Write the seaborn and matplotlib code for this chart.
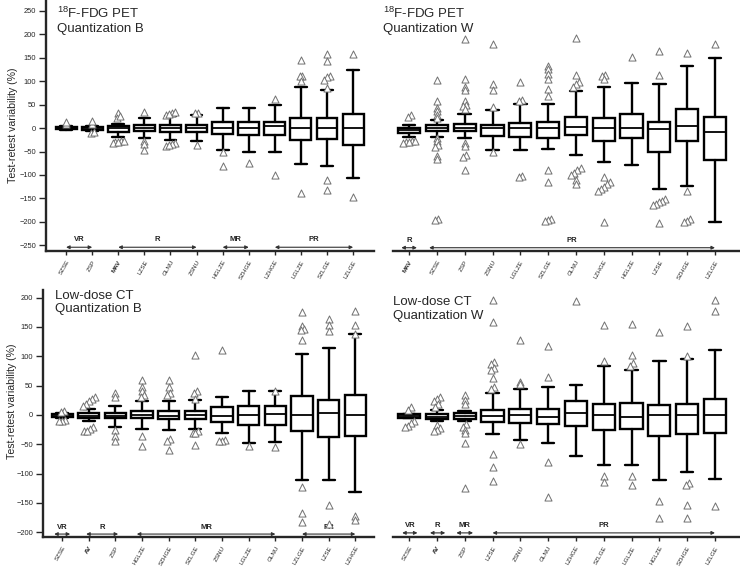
import matplotlib
matplotlib.use("Agg")
import matplotlib.pyplot as plt
import seaborn as sns
import pandas as pd
import numpy as np

# ---------------- data ----------------
# Panel A: 18F-FDG PET, Quantization B
a_cats = ["SZSE", "ZSP", "MAV", "LZSE", "GLNU", "ZSNU", "HGLZE", "SZHGE", "LZHGE", "LGLZE", "SZLGE", "LZLGE"]
a_lo = [-5, -6, -18, -21, -25, -28, -47, -50, -50, -77, -80, -107]
a_q1 = [-3, -4, -9, -7, -8, -9, -13, -14, -14, -25, -23, -36]
a_med = [0, -1, 0, 0, 0, 0, 1, 0, 4, 0, 0, 0]
a_q3 = [2, 3, 4, 7, 7, 7, 13, 13, 13, 21, 21, 31]
a_hi = [5, 5, 9, 21, 25, 28, 43, 43, 50, 87, 82, 123]
a_fl = [[8, 14], [9, 15, -10, -8], [32, 22, 26, -28, -30, -32, -29, -27],
        [35, -28, -34, -47], [28, 32, 35, 30, -31, -34, -39, -36], [33, 32, -36],
        [-51, -81], [-75], [63, -99], [146, 112, 111, 100, -138],
        [158, 144, 112, 108, 103, 86, -110, -133], [157, -146]]
a_groups = [("VR", 0, 1), ("R", 2, 5), ("MR", 6, 7), ("PR", 8, 11)]

# Panel B: 18F-FDG PET, Quantization W
b_cats = ["MAV", "SZSE", "ZSP", "ZSNU", "LGLZE", "SZLGE", "GLNU", "LZHGE", "HGLZE", "LZSE", "SZHGE", "LZLGE"]
b_lo = [-18, -18, -21, -47, -47, -44, -58, -73, -79, -129, -124, -201]
b_q1 = [-11, -7, -7, -16, -18, -21, -14, -27, -21, -51, -28, -68]
b_med = [-5, 0, 1, 0, 0, 0, 2, 0, 0, -2, 4, -9]
b_q3 = [1, 6, 9, 7, 11, 13, 23, 21, 30, 14, 41, 23]
b_hi = [7, 18, 30, 39, 51, 51, 78, 88, 96, 93, 133, 150]
b_fl = [[28, 23, -28, -30, -32, -29, -27],
        [103, 57, 42, 36, 28, 22, -22, -28, -35, -40, -60, -66, -193, -196],
        [190, 105, 88, 82, 57, 50, 46, 40, -32, -39, -58, -62, -90],
        [179, 93, 82, 44, -52], [98, 60, 57, -103, -105],
        [132, 125, 116, 105, 83, 69, -90, -115, -193, -195, -197],
        [191, 114, 98, 93, 88, -85, -90, -95, -100, -110, -120],
        [114, 110, 104, -105, -115, -120, -125, -130, -135, -200],
        [152], [164, 114, -152, -155, -158, -162, -165, -202],
        [160, -134, -193, -197, -200], [179]]
b_groups = [("R", -0.28, 0.28), ("PR", 0.72, 11)]

# Panel C: Low-dose CT, Quantization B
c_cats = ["SZSE", "AV", "ZSP", "HGLZE", "SZHGE", "SZLGE", "ZSNU", "LGLZE", "GLNU", "LZLGE", "LZSE", "LZHGE"]
c_lo = [-5, -11, -21, -24, -26, -24, -30, -47, -46, -110, -111, -131]
c_q1 = [-4, -6, -6, -6, -7, -7, -12, -17, -17, -27, -37, -36]
c_med = [-2, -1, -1, 0, -1, 0, -2, 0, 1, 0, 4, 0]
c_q3 = [1, 4, 4, 7, 6, 7, 13, 15, 15, 32, 26, 34]
c_hi = [3, 10, 15, 23, 23, 26, 30, 40, 40, 104, 114, 138]
c_fl = [[7, 5, -8, -10, -11], [31, 27, 23, 19, 15, -20, -24, -28, -27],
        [37, 30, -25, -35, -45], [60, 48, 40, 34, 30, -36, -53],
        [59, 48, 38, 34, -41, -45, -59], [102, 41, 38, 28, -28, -31, -30, -51],
        [110, -43, -44, -45], [-53], [41, -54],
        [176, 152, 147, 144, 128, -122, -167, -182],
        [163, 154, 143, -154, -186], [177, 153, 138, -173, -179]]
c_groups = [("VR", -0.3, 0.3), ("R", 0.9, 2.1), ("MR", 2.8, 8), ("PR", 9, 11)]

# Panel D: Low-dose CT, Quantization W
d_cats = ["SZSE", "AV", "ZSP", "LZSE", "ZSNU", "GLNU", "LZHGE", "SZLGE", "LGLZE", "HGLZE", "SZHGE", "LZLGE"]
d_lo = [-6, -11, -11, -32, -43, -47, -70, -85, -86, -110, -97, -109]
d_q1 = [-6, -7, -7, -12, -13, -16, -19, -26, -24, -36, -32, -30]
d_med = [-2, -3, -2, -1, 0, -4, 3, 0, -3, 0, 0, 0]
d_q3 = [1, 2, 3, 8, 11, 10, 23, 19, 20, 17, 18, 27]
d_hi = [1, 8, 7, 38, 44, 48, 51, 84, 77, 92, 95, 110]
d_fl = [[13, 9, -11, -14, -18, -20], [31, 28, 24, 18, 14, -17, -22, -25, -28],
        [34, 26, 18, -16, -20, -26, -31, -48, -125],
        [196, 158, 91, 87, 80, 77, 63, 48, 45, -66, -88, -112],
        [128, 57, 52, -49], [117, 65, -80, -140], [195], [154, 92, -104, -115],
        [155, 103, 88, 84, -104, -120], [142, -146, -175],
        [151, 100, -116, -120, -154, -176], [196, 178, -155]]
d_groups = [("VR", -0.25, 0.3), ("R", 0.75, 1.3), ("MR", 1.7, 2.3), ("PR", 3, 11)]

bold_labels = ["MAV", "AV"]

# ---------------- style ----------------
sns.set_style("ticks")
plt.rcParams["font.family"] = ["Liberation Sans", "DejaVu Sans"]
plt.rcParams["mathtext.fontset"] = "custom"
plt.rcParams["mathtext.rm"] = "Liberation Sans"

fig = plt.figure(figsize=(7.4, 5.67), dpi=100)
W, H = 740, 567


def px_axes(x0, y0, x1, y1):
    return fig.add_axes([x0 / W, 1 - y1 / H, (x1 - x0) / W, (y1 - y0) / H])


def spread(vals, thr):
    """horizontal offsets so that close outliers do not overlap"""
    order = np.argsort(vals)
    offs = np.zeros(len(vals))
    groups, cur = [], []
    for i in order:
        if cur and vals[i] - vals[cur[-1]] > thr:
            groups.append(cur)
            cur = []
        cur.append(i)
    if cur:
        groups.append(cur)
    for g in groups:
        n = len(g)
        for k, i in enumerate(g):
            offs[i] = (k - (n - 1) / 2) * 0.11 if n > 1 else 0
    return offs


def draw(ax, cats, lo, q1, med, q3, hi, fl, groups, ylim, yticks, arrow_y, label_y,
         title, tpos, ylab_pos):
    stats = []
    for i, c in enumerate(cats):
        stats.append(dict(label=c, whislo=lo[i], q1=q1[i], med=med[i], q3=q3[i],
                          whishi=hi[i], fliers=[]))
    ax.bxp(stats, positions=range(len(cats)), widths=0.8, capwidths=0.45,
           showfliers=False, patch_artist=True,
           boxprops=dict(facecolor="white", edgecolor="black", linewidth=1.7),
           medianprops=dict(color="black", linewidth=1.3),
           whiskerprops=dict(color="black", linewidth=1.7),
           capprops=dict(color="black", linewidth=1.7))
    thr = (ylim[1] - ylim[0]) * 0.011
    rows = []
    for i, vals in enumerate(fl):
        offs = spread(np.array(vals, dtype=float), thr)
        for v, o in zip(vals, offs):
            rows.append((i + o, v))
    df = pd.DataFrame(rows, columns=["x", "y"])
    sns.scatterplot(data=df, x="x", y="y", ax=ax, marker="^", s=26,
                    facecolor="white", edgecolor="#707070", linewidth=0.7, zorder=5)
    ax.set_ylim(*ylim)
    ax.set_xticks(range(len(cats)))
    ax.set_xticklabels(cats, rotation=60, ha="right", rotation_mode="anchor", fontsize=4.5)
    for t in ax.get_xticklabels():
        if t.get_text() in bold_labels:
            t.set_fontweight("bold")
    ax.tick_params(axis="x", length=3, width=1, pad=3)
    ax.set_xlabel("")
    sns.despine(ax=ax)
    ax.spines["bottom"].set_linewidth(1.7)
    if ylab_pos is not None:
        ax.set_yticks(yticks)
        ax.tick_params(axis="y", labelsize=5.4, length=5, width=1, pad=2)
        ax.spines["left"].set_linewidth(1.7)
        ax.set_ylabel("Test-retest variability (%)", fontsize=7.6)
        ax.yaxis.set_label_coords(*ylab_pos)
    else:
        ax.set_yticks([])
        ax.spines["left"].set_visible(False)
        ax.set_ylabel("")
    for name, x0, x1 in groups:
        ax.annotate("", xy=(x1, arrow_y), xytext=(x0, arrow_y),
                    arrowprops=dict(arrowstyle="<|-|>", color="#333333", lw=0.8,
                                    mutation_scale=5, shrinkA=0, shrinkB=0))
        ax.text((x0 + x1) / 2, label_y, name, ha="center", va="bottom",
                fontsize=5.5, fontweight="bold", color="#222222")
    ax.text(tpos[0], tpos[1], title, transform=ax.transAxes, ha="left", va="top",
            fontsize=9.5, linespacing=1.15)


ax_a = px_axes(46, 0, 374, 251)
ax_b = px_axes(393, 0, 740, 251)
ax_c = px_axes(43, 290, 374, 537)
ax_d = px_axes(393, 290, 740, 537)

pet_ylim = (-262, 273)
ct_ylim = (-208, 213)
pet_ticks = list(range(-250, 251, 50))
ct_ticks = list(range(-200, 201, 50))

draw(ax_a, a_cats, a_lo, a_q1, a_med, a_q3, a_hi, a_fl, a_groups, pet_ylim, pet_ticks,
     -254, -246, "$^{\\mathregular{18}}$F-FDG PET\nQuantization B", (0.035, 0.975),
     (-0.085, 0.5))
draw(ax_b, b_cats, b_lo, b_q1, b_med, b_q3, b_hi, b_fl, b_groups, pet_ylim, pet_ticks,
     -255, -247, "$^{\\mathregular{18}}$F-FDG PET\nQuantization W", (-0.03, 0.975), None)
draw(ax_c, c_cats, c_lo, c_q1, c_med, c_q3, c_hi, c_fl, c_groups, ct_ylim, ct_ticks,
     -203, -197, "Low-dose CT\nQuantization B", (0.036, 1.0), (-0.08, 0.55))
draw(ax_d, d_cats, d_lo, d_q1, d_med, d_q3, d_hi, d_fl, d_groups, ct_ylim, ct_ticks,
     -201, -195, "Low-dose CT\nQuantization W", (0.0, 0.975), None)

ax_b.set_xlim(-0.58, 11.9)
ax_d.set_xlim(-0.58, 11.9)
ax_a.set_xlim(-0.77, 11.8)
ax_c.set_xlim(-0.72, 11.7)

fig.savefig("out.png", dpi=100)
